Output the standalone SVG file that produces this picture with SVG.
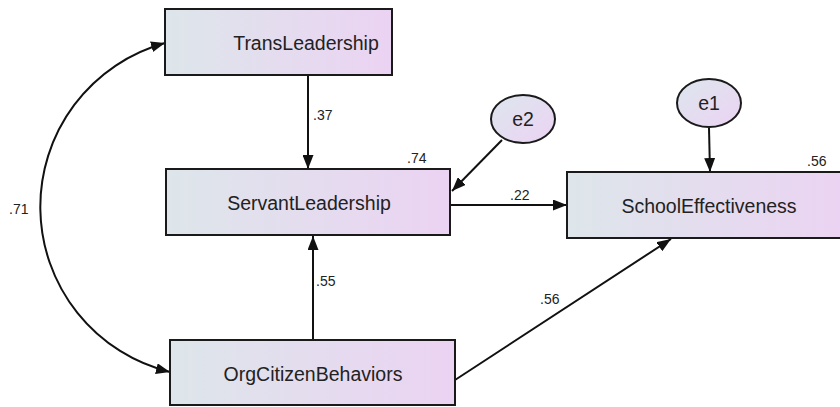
<svg xmlns="http://www.w3.org/2000/svg" width="840" height="407" viewBox="0 0 840 407">
<style>
.box{stroke:#1a1a1a;stroke-width:2;fill:url(#g)}
.ell{stroke:#1a1a1a;stroke-width:2;fill:url(#ge)}
.lbl{font-family:"Liberation Sans",Arial,sans-serif;font-size:19.5px;fill:#222;text-anchor:middle;dominant-baseline:central}
.num{font-family:"Liberation Sans",Arial,sans-serif;font-size:14px;fill:#222}
.c{stroke:#111;stroke-width:2;fill:none}
</style>
<defs>
<linearGradient id="g" x1="0" y1="0" x2="1" y2="0">
<stop offset="0" stop-color="#dde6ea"/>
<stop offset="1" stop-color="#ebd3f3"/>
</linearGradient>
<linearGradient id="ge" x1="0" y1="0" x2="1" y2="1">
<stop offset="0" stop-color="#dde6ee"/>
<stop offset="1" stop-color="#ecd3f3"/>
</linearGradient>
<marker id="a" viewBox="0 0 14 11" refX="14" refY="5.5" markerWidth="14" markerHeight="11" markerUnits="userSpaceOnUse" orient="auto-start-reverse">
<path d="M0,0 L14,5.5 L0,11 Z" fill="#111"/>
</marker>
</defs>
<rect width="840" height="407" fill="#fff"/>
<g id="connectors">
<path class="c" d="M165,43 A170,170 0 0 0 170,372" marker-start="url(#a)" marker-end="url(#a)"/>
<line class="c" x1="308" y1="75" x2="308" y2="169" marker-end="url(#a)"/>
<line class="c" x1="313" y1="340" x2="313" y2="236" marker-end="url(#a)"/>
<line class="c" x1="502" y1="140" x2="452" y2="191" marker-end="url(#a)"/>
<line class="c" x1="451" y1="205" x2="567" y2="205" marker-end="url(#a)"/>
<line class="c" x1="709" y1="128" x2="710" y2="172" marker-end="url(#a)"/>
<line class="c" x1="455" y1="380" x2="671" y2="239" marker-end="url(#a)"/>
<text class="num" x="9" y="214">.71</text>
<text class="num" x="313" y="120">.37</text>
<text class="num" x="316" y="286">.55</text>
<text class="num" x="510" y="200">.22</text>
<text class="num" x="540" y="304">.56</text>
<text class="num" x="407" y="163">.74</text>
<text class="num" x="807" y="166">.56</text>
</g>
<g id="TransLeadership">
<rect class="box" x="165" y="9" width="227" height="66"/>
<text class="lbl" x="306" y="43">TransLeadership</text>
</g>
<g id="ServantLeadership">
<rect class="box" x="166" y="169" width="284" height="66"/>
<text class="lbl" x="309" y="203">ServantLeadership</text>
</g>
<g id="OrgCitizenBehaviors">
<rect class="box" x="170" y="340" width="285" height="65"/>
<text class="lbl" x="313" y="374">OrgCitizenBehaviors</text>
</g>
<g id="SchoolEffectiveness">
<rect class="box" x="567" y="172" width="280" height="66"/>
<text class="lbl" x="709" y="206">SchoolEffectiveness</text>
</g>
<g id="e2">
<ellipse class="ell" cx="523" cy="119" rx="32" ry="24"/>
<text class="lbl" x="523" y="119">e2</text>
</g>
<g id="e1">
<ellipse class="ell" cx="709" cy="103" rx="32" ry="24"/>
<text class="lbl" x="709" y="103">e1</text>
</g>
</svg>
